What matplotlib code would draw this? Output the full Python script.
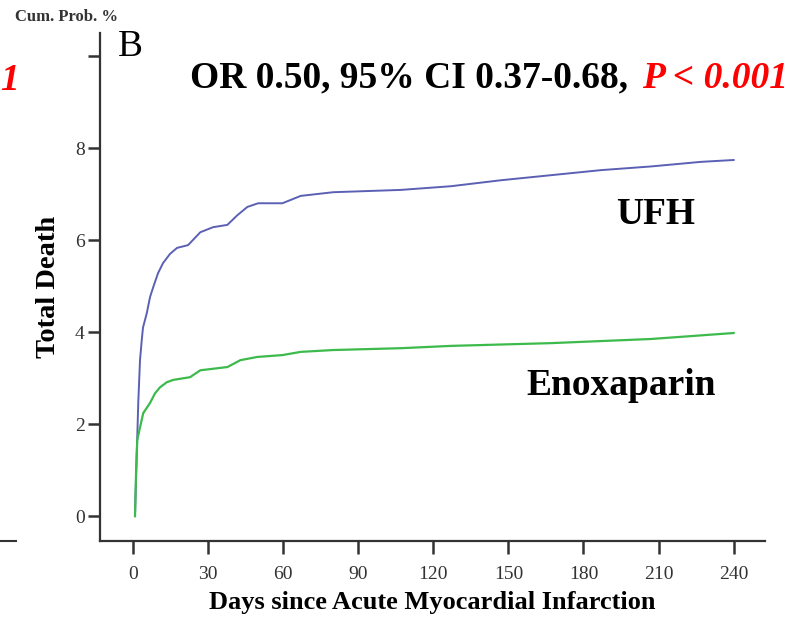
import matplotlib.pyplot as plt
from matplotlib.lines import Line2D

plt.rcParams["font.family"] = ["Liberation Serif", "DejaVu Serif"]

# cumulative probability of death (%)
days_ufh = [0.8, 1.2, 1.5, 1.8, 2.1, 2.8, 3.5, 4, 5.5, 6.8, 8.1, 10, 12, 14.8, 17.6, 22,
            26.9, 32, 37.7, 41.7, 45.7, 50, 59.7, 67, 80, 107, 127, 147, 167, 187, 207,
            227, 240]
death_ufh = [0, 0.8, 1.37, 1.9, 2.46, 3.39, 3.83, 4.1, 4.41, 4.76, 4.98, 5.28, 5.5, 5.7,
             5.83, 5.89, 6.17, 6.28, 6.33, 6.54, 6.72, 6.8, 6.8, 6.96, 7.04, 7.09, 7.17,
             7.3, 7.41, 7.52, 7.6, 7.7, 7.74]

days_enox = [0.8, 1.2, 1.7, 2.8, 4.1, 6.8, 8.8, 10.8, 13.5, 16, 22.8, 26.9, 37.7, 42.9,
             49.7, 59.7, 67, 80, 107, 127, 167, 207, 240]
death_enox = [0, 0.9, 1.65, 1.93, 2.24, 2.46, 2.67, 2.8, 2.91, 2.96, 3.02, 3.17, 3.24,
              3.39, 3.46, 3.5, 3.57, 3.61, 3.65, 3.7, 3.76, 3.85, 3.98]

x_ticks = [0, 30, 60, 90, 120, 150, 180, 210, 240]
y_ticks = [0, 2, 4, 6, 8, 10]
y_labels = ["0", "2", "4", "6", "8", ""]

fig = plt.figure(figsize=(7.94, 6.17), dpi=100)
ax = fig.add_axes([0.1259, 0.1232, 0.8375, 0.8233])

ax.plot(days_ufh, death_ufh, color="#5b60b4", lw=1.4)
ax.plot(days_enox, death_enox, color="#3cba4c", lw=1.6)

ax.set_xlim(-13.2, 252.5)
ax.set_ylim(-0.54, 10.5)
ax.set_xticks(x_ticks)
ax.set_yticks(y_ticks)
ax.set_yticklabels(y_labels)
ax.tick_params(length=9, width=1.8, labelsize=14, labelcolor="#333333", color="#333333")
ax.tick_params(axis="y", pad=2)
ax.tick_params(axis="x", pad=9)

for side in ["top", "right"]:
    ax.spines[side].set_visible(False)
for side in ["left", "bottom"]:
    ax.spines[side].set_linewidth(1.6)
    ax.spines[side].set_color("#333333")

ax.set_xlabel("Days since Acute Myocardial Infarction", fontsize=19, fontweight="bold", labelpad=6)
ax.set_ylabel("Total Death", fontsize=20.5, fontweight="bold", labelpad=10)

fig.text(0.019, 0.972, "Cum. Prob. %", fontsize=12, fontweight="bold", color="#333333",
         va="center", ha="left")
fig.text(0.148, 0.925, "B", fontsize=27, va="center", ha="left")
fig.text(0.0, 0.87, "1", fontsize=27, fontweight="bold", fontstyle="italic", color="red",
         va="center", ha="left")
fig.text(0.239, 0.873, "OR 0.50, 95% CI 0.37-0.68,", fontsize=27, fontweight="bold",
         va="center", ha="left")
fig.text(0.808, 0.873, "P < 0.001", fontsize=27, fontweight="bold", fontstyle="italic",
         color="red", va="center", ha="left")

ax.text(209, 6.55, "UFH", fontsize=27, fontweight="bold", ha="center", va="center")
ax.text(195, 2.85, "Enoxaparin", fontsize=27, fontweight="bold", ha="center", va="center")

fig.add_artist(Line2D([0.0, 0.02], [0.123, 0.123], color="#333333", lw=1.5))

fig.savefig("out.png", dpi=100)
